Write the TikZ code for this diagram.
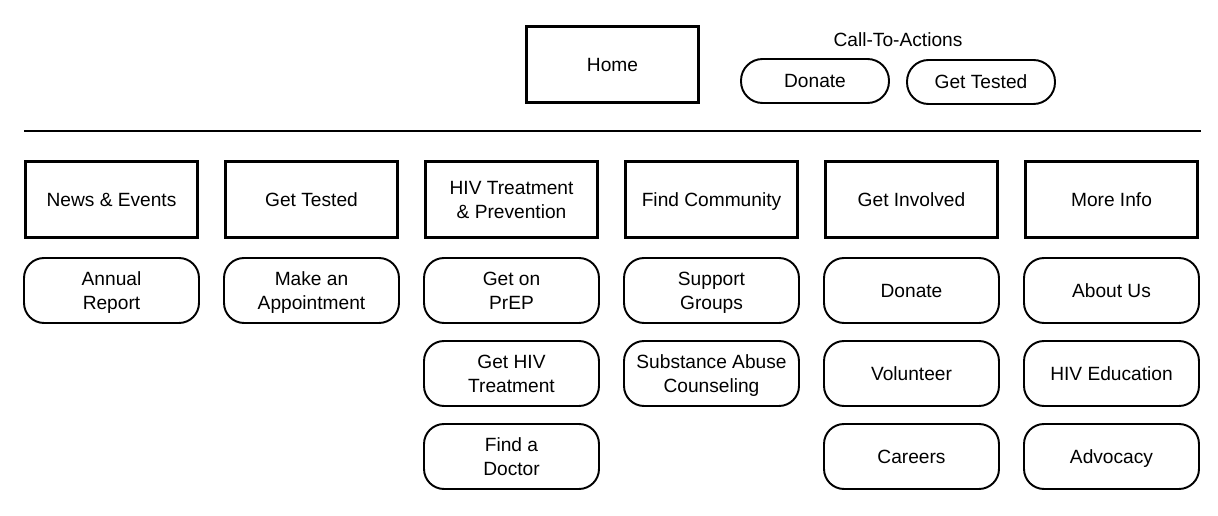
\documentclass[tikz,border=0pt]{standalone}
\usepackage{fontspec}
\setmainfont{Liberation Sans}
\usetikzlibrary{positioning}

\begin{document}
\begin{tikzpicture}[
  x=0.02cm, y=-0.02cm,
  every node/.style={font=\fontsize{10.9}{13.6}\selectfont, align=center,
                     text depth=0pt, execute at begin node={\rule{0pt}{0.72em}}},
  page/.style={draw, line width=1.7pt, minimum width=3.45cm,
               minimum height=1.52cm, inner sep=0pt},
  sub/.style={draw, line width=1.1pt, rounded corners=0.4cm,
              minimum width=3.5cm, minimum height=1.3cm, inner sep=0pt},
  cta/.style={draw, line width=1.1pt, rounded corners=0.43cm,
              minimum width=2.96cm, minimum height=0.88cm, inner sep=0pt},
]
  \useasboundingbox (0,0) rectangle (1218,516);

  % top bar
  \node[page] (home) at (612.5,64.5) {Home};
  \node (ctalabel) at (898,40) {Call-To-Actions};
  \node[cta] (ctadonate) at (815,81) {Donate};
  \node[cta] (ctatested) at (981,82) {Get Tested};

  \coordinate (ruleL) at (24,131);
  \coordinate (ruleR) at (1201,131);
  \draw[line width=1.1pt] (ruleL) -- (ruleR);

  % sections
  \node[page] (news) at (111.5,199.5) {News \& Events};
  \node[page] (tested) at (311.5,199.5) {Get Tested};
  \node[page] (hiv) at (511.5,199.5) {HIV Treatment\\\& Prevention};
  \node[page] (community) at (711.5,199.5) {Find Community};
  \node[page] (involved) at (911.5,199.5) {Get Involved};
  \node[page] (info) at (1111.5,199.5) {More Info};

  % sub pages
  \node[sub] (report) at (111.5,290.5) {Annual\\Report};
  \node[sub] (appoint) at (311.5,290.5) {Make an\\Appointment};
  \node[sub] (prep) at (511.5,290.5) {Get on\\PrEP};
  \node[sub] (treat) at (511.5,373.5) {Get HIV\\Treatment};
  \node[sub] (doctor) at (511.5,456.5) {Find a\\Doctor};
  \node[sub] (groups) at (711.5,290.5) {Support\\Groups};
  \node[sub] (abuse) at (711.5,373.5) {Substance Abuse\\Counseling};
  \node[sub] (donate) at (911.5,290.5) {Donate};
  \node[sub] (volunteer) at (911.5,373.5) {Volunteer};
  \node[sub] (careers) at (911.5,456.5) {Careers};
  \node[sub] (about) at (1111.5,290.5) {About Us};
  \node[sub] (education) at (1111.5,373.5) {HIV Education};
  \node[sub] (advocacy) at (1111.5,456.5) {Advocacy};
\end{tikzpicture}
\end{document}
